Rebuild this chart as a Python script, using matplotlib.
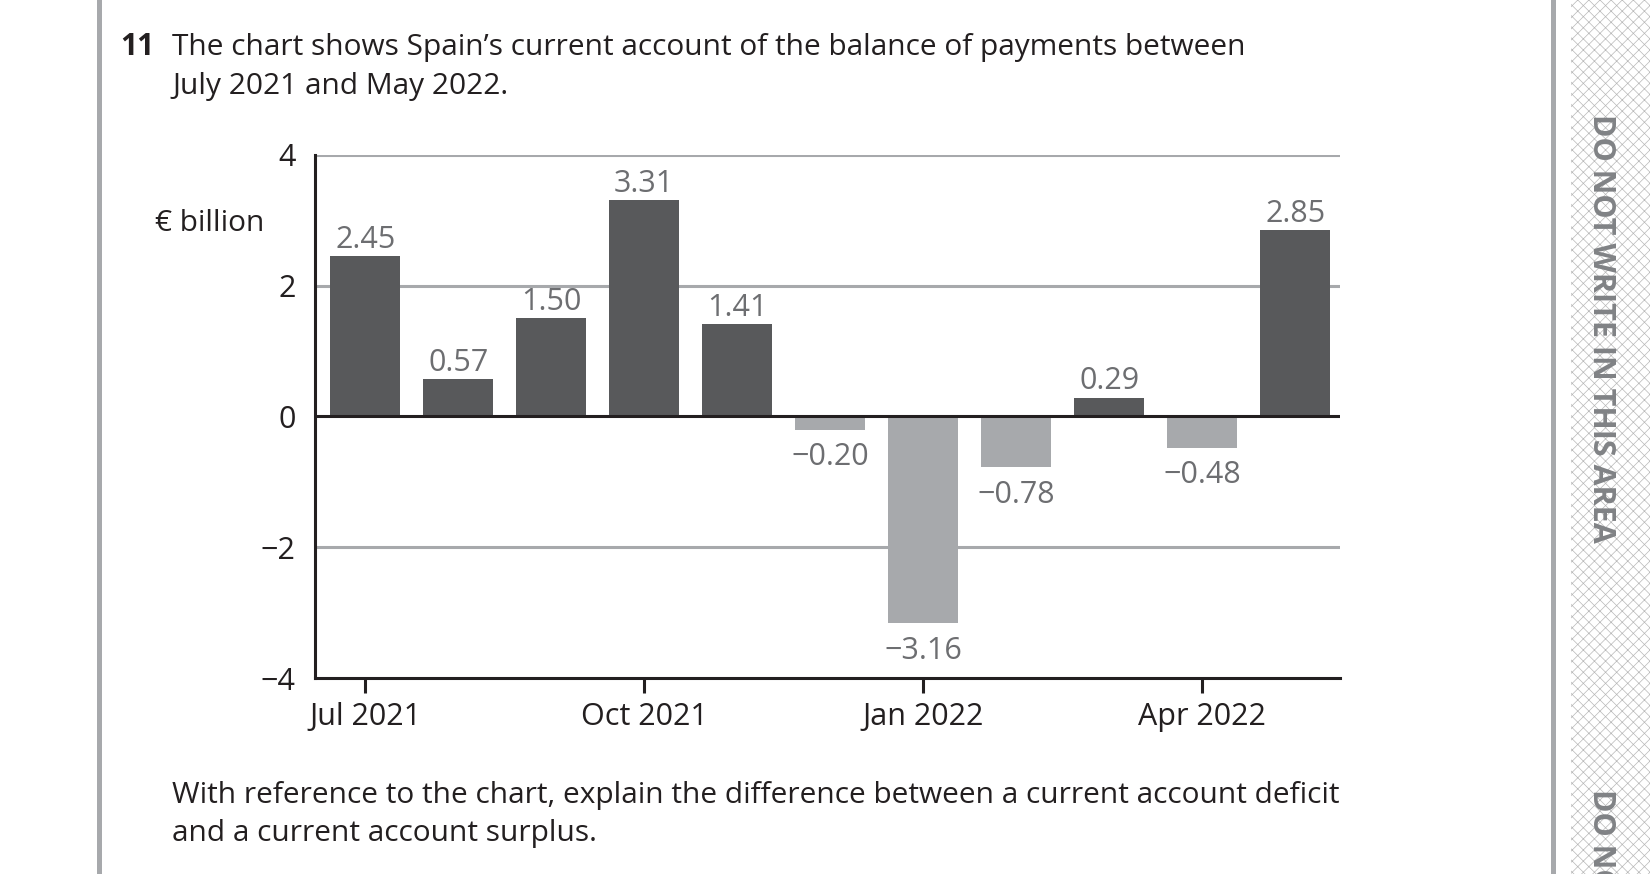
import matplotlib
matplotlib.use("Agg")
import matplotlib.pyplot as plt
from matplotlib.patches import Rectangle

months = ["Jul 2021", "Aug 2021", "Sep 2021", "Oct 2021", "Nov 2021", "Dec 2021",
          "Jan 2022", "Feb 2022", "Mar 2022", "Apr 2022", "May 2022"]
values = [2.45, 0.57, 1.50, 3.31, 1.41, -0.20, -3.16, -0.78, 0.29, -0.48, 2.85]
value_labels = ["2.45", "0.57", "1.50", "3.31", "1.41", "\u22120.20", "\u22123.16",
                "\u22120.78", "0.29", "\u22120.48", "2.85"]
xtick_idx = [0, 3, 6, 9]
xtick_labels = ["Jul 2021", "Oct 2021", "Jan 2022", "Apr 2022"]
yticks = [-4, -2, 0, 2, 4]
ytick_labels = ["\u22124", "\u22122", "0", "2", "4"]

W, H = 1650, 874
FONT = "Open Sans"
TXT = "#231f20"
POS = "#58595b"
NEG = "#a7a9ac"
GRID = "#a7a9ac"
LBL = "#6d6e71"
FS = 21.5
TFS = 22

plt.rcParams['font.family'] = [FONT, 'DejaVu Sans']

fig = plt.figure(figsize=(W / 100, H / 100), dpi=100)

def fx(x):
    return x / W

def fy(y):
    return 1 - y / H

# page borders
fig.add_artist(Rectangle((fx(97), 0), fx(5), 1, transform=fig.transFigure,
                         facecolor="#a7a9ac", edgecolor="none"))
fig.add_artist(Rectangle((fx(1551), 0), fx(5), 1, transform=fig.transFigure,
                         facecolor="#a7a9ac", edgecolor="none"))
plt.rcParams['hatch.color'] = "#b8b8b8"
plt.rcParams['hatch.linewidth'] = 0.5
fig.add_artist(Rectangle((fx(1571), 0), fx(W - 1571), 1, transform=fig.transFigure,
                         facecolor="white", edgecolor="#b8b8b8", hatch="xxx", lw=0))
fig.text(fx(1601), fy(114), "DO NOT WRITE IN THIS AREA", rotation=-90,
         ha="center", va="top", fontsize=22, fontweight="bold", color="#808285")
fig.text(fx(1601), fy(789), "DO NOT WRITE IN THIS AREA", rotation=-90,
         ha="center", va="top", fontsize=22, fontweight="bold", color="#808285")

# question text
fig.text(fx(120), fy(55), "11", fontsize=FS, fontweight="bold", color=TXT,
         ha="left", va="baseline")
fig.text(fx(172), fy(55),
         "The chart shows Spain\u2019s current account of the balance of payments between",
         fontsize=FS, color=TXT, ha="left", va="baseline")
fig.text(fx(172), fy(94), "July 2021 and May 2022.", fontsize=FS, color=TXT,
         ha="left", va="baseline")
fig.text(fx(172), fy(803),
         "With reference to the chart, explain the difference between a current account deficit",
         fontsize=FS, color=TXT, ha="left", va="baseline")
fig.text(fx(172), fy(841), "and a current account surplus.", fontsize=FS, color=TXT,
         ha="left", va="baseline")

# chart
ax = fig.add_axes([fx(315), fy(678), fx(1340 - 315), (678 - 155) / H])
x = list(range(len(values)))
colors = [POS if v >= 0 else NEG for v in values]
ax.bar(x, values, width=0.75, color=colors, zorder=2)
ax.set_xlim(-0.54, 10.48)
ax.set_ylim(-4, 4)

for yv in [4, 2, -2]:
    ax.axhline(yv, color=GRID, lw=2.2, zorder=1)
ax.axhline(0, color=TXT, lw=2.2, zorder=3)

for xi, v, s in zip(x, values, value_labels):
    if v >= 0:
        ax.annotate(s, (xi, v), xytext=(0, 1), textcoords="offset points",
                    ha="center", va="bottom", fontsize=TFS, color=LBL)
    else:
        ax.annotate(s, (xi, v), xytext=(0, -9), textcoords="offset points",
                    ha="center", va="top", fontsize=TFS, color=LBL)

for sp in ["top", "right"]:
    ax.spines[sp].set_visible(False)
for sp in ["left", "bottom"]:
    ax.spines[sp].set_color(TXT)
    ax.spines[sp].set_linewidth(2.2)
    ax.spines[sp].set_zorder(4)

ax.set_yticks(yticks)
ax.set_yticklabels(ytick_labels)
ax.tick_params(axis="y", length=0, pad=14, labelsize=TFS, labelcolor=TXT)
ax.set_xticks(xtick_idx)
ax.set_xticklabels(xtick_labels)
ax.tick_params(axis="x", length=11, width=2.2, color=TXT, pad=6, labelsize=TFS,
               labelcolor=TXT)

fig.text(fx(155), fy(231), "\u20ac billion", fontsize=FS, color=TXT, ha="left",
         va="baseline")

fig.savefig("out.png", dpi=100, facecolor="white")
